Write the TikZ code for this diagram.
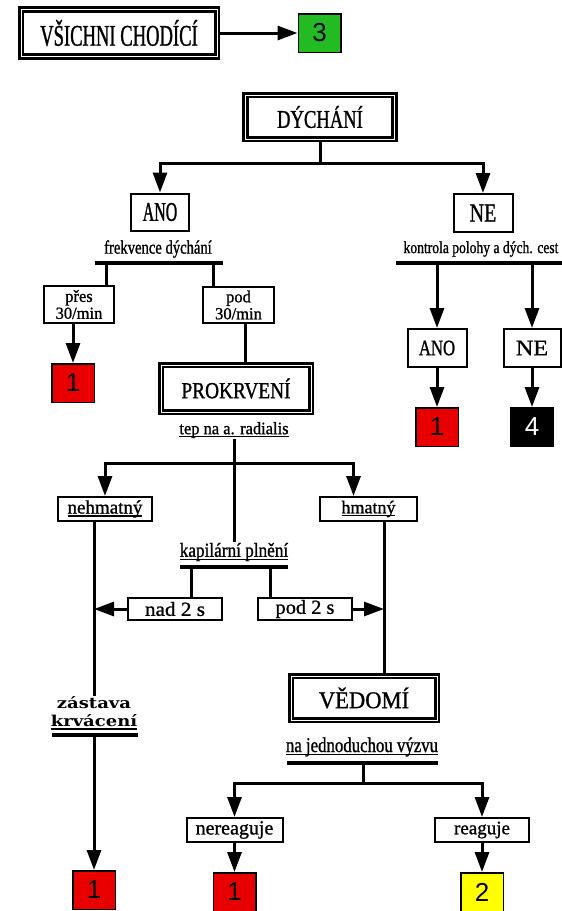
\documentclass[tikz,border=0pt]{standalone}
\usepackage{fontspec}
\setmainfont{Liberation Serif}
\newfontfamily\digitsans{Liberation Sans}
\usetikzlibrary{arrows.meta}
% condensed serif: #1 stretch, #2 size
\newcommand{\serifat}[2]{\fontspec[FakeStretch=#1,FakeBold=1]{Liberation Serif}\fontsize{#2}{#2}\selectfont}
\newcommand{\heavyat}[1]{\fontspec[FakeStretch=1.2]{DejaVu Serif}\bfseries\fontsize{#1}{#1}\selectfont}
\newcommand{\ulined}[1]{\leavevmode\setbox0=\hbox{#1}\rlap{\rule[-3pt]{\wd0}{1.3pt}}\box0}

\definecolor{triagegreen}{RGB}{34,187,34}
\definecolor{triagered}{RGB}{232,0,0}
\definecolor{triageyellow}{RGB}{255,255,0}

\tikzstyle{box}=[draw,line width=2pt,fill=white,inner sep=0pt,align=center]
\tikzstyle{title box}=[box,line width=2.8pt,double=white,double distance=0.9pt]
\tikzstyle{score box}=[draw,line width=1.5pt,minimum width=42.5pt,minimum height=38.5pt,
                       inner sep=0pt,font=\digitsans\fontsize{26}{26}\selectfont]
\tikzstyle{label}=[inner sep=1pt,align=center]
\tikzstyle{edge}=[draw,line width=3pt]
\tikzstyle{arrow}=[edge,-{Triangle[length=20pt,width=14pt]}]
\tikzstyle{bar}=[draw,line width=4pt]

\begin{document}
\begin{tikzpicture}[x=1pt,y=-1pt]
    \useasboundingbox (0,0) rectangle (562,911);
    % boxes
    \node[title box,minimum width=196pt,minimum height=47pt,
          font=\serifat{0.62}{30}] (walking) at (119,33) {VŠICHNI CHODÍCÍ};
    \node[title box,minimum width=149pt,minimum height=44pt,
          font=\serifat{0.73}{25.5}] (breath) at (320,117) {DÝCHÁNÍ};
    \node[title box,minimum width=150pt,minimum height=47pt,
          font=\serifat{0.84}{23}] (perfusion) at (236,388.5) {PROKRVENÍ};
    \node[title box,minimum width=146pt,minimum height=44pt,
          font=\serifat{0.94}{24}] (mind) at (364,698) {VĚDOMÍ};
    \node[box,minimum width=58pt,minimum height=37pt,
          font=\serifat{0.59}{27}] (yes breath) at (160,212) {ANO};
    \node[box,minimum width=59pt,minimum height=38pt,
          font=\serifat{0.77}{26}] (no breath) at (483,213) {NE};
    \node[box,minimum width=59pt,minimum height=38pt,
          font=\serifat{0.76}{22}] (yes airway) at (437,348) {ANO};
    \node[box,minimum width=57pt,minimum height=38pt,
          font=\serifat{1.1}{22}] (no airway) at (532,348) {NE};
    \node[box,minimum width=70pt,minimum height=37pt,
          font=\serifat{0.97}{17}] (fast) at (79,304.5) {přes\\30/min};
    \node[box,minimum width=71pt,minimum height=36pt,
          font=\serifat{0.97}{17}] (slow) at (238.5,305) {pod\\30/min};
    \node[box,minimum width=94pt,minimum height=24pt,
          font=\serifat{1}{19}] (no pulse) at (105,509) {\ulined{nehmatný}};
    \node[box,minimum width=97pt,minimum height=24pt,
          font=\serifat{1}{18}] (pulse) at (368.5,509) {\ulined{hmatný}};
    \node[box,minimum width=94pt,minimum height=22pt,
          font=\serifat{1.06}{20}] (over) at (175,609) {nad 2 s};
    \node[box,minimum width=94pt,minimum height=22pt,
          font=\serifat{1.02}{20}] (under) at (305,609) {pod 2 s};
    \node[box,minimum width=96pt,minimum height=24pt,
          font=\serifat{1}{20}] (silent) at (234.5,830) {nereaguje};
    \node[box,minimum width=94pt,minimum height=24pt,
          font=\serifat{1}{19}] (answers) at (482,830) {reaguje};
    % texts
    \node[label,font=\serifat{0.77}{19}] (rate) at (158,249) {frekvence dýchání};
    \node[label,font=\serifat{0.8}{17}] (airway) at (481,249) {kontrola polohy a dých. cest};
    \node[label,font=\serifat{0.94}{17.5}] (radial) at (234,430) {\ulined{tep na a. radialis}};
    \node[label,font=\serifat{0.86}{20}] (refill) at (234,552) {\ulined{kapilární plnění}};
    \node[label,font=\heavyat{15}] (stop) at (94,703) {zástava};
    \node[label,font=\heavyat{15}] (bleed) at (94,722) {\ulined{krvácení}};
    \node[label,font=\serifat{0.8}{21}] (voice) at (362,747) {\ulined{na jednoduchou výzvu}};
    % scores
    \foreach \pos/\name/\col/\ink/\num in {{(319.5,33)/green/triagegreen/black/3},
                                           {(73,383)/redfast/triagered/black/1},
                                           {(437,427)/redairway/triagered/black/1},
                                           {(532,427)/dead/black/white/4},
                                           {(94,890)/redbleed/triagered/black/1},
                                           {(234.5,892)/redsilent/triagered/black/1},
                                           {(482,892)/yellow/triageyellow/black/2}}
        \node[score box,fill=\col,text=\ink] (\name) at \pos {\num};
    % forks and bars
    \coordinate (breath fork) at (320,163);
    \coordinate (rate left) at (95,263);
    \coordinate (rate right) at (223,263);
    \coordinate (fast tap) at (106,263);
    \coordinate (slow tap) at (213,263);
    \coordinate (slow drop) at (245,0);
    \coordinate (airway left) at (396,263);
    \coordinate (airway right) at (562,263);
    \coordinate (pulse fork) at (234,463);
    \coordinate (felt drop) at (384,0);
    \coordinate (refill left) at (180,567);
    \coordinate (refill right) at (288,567);
    \coordinate (over tap) at (191,567);
    \coordinate (under tap) at (270,567);
    \coordinate (bleed left) at (52,735);
    \coordinate (bleed right) at (138,735);
    \coordinate (voice left) at (287,763);
    \coordinate (voice right) at (438,763);
    \coordinate (voice top) at (363,763);
    \coordinate (voice fork) at (363,783);
    \foreach \from/\to in {rate left/rate right, airway left/airway right,
                           refill left/refill right, bleed left/bleed right,
                           voice left/voice right}
        \path[bar] (\from) -- (\to);
    % connectors
    \path[arrow] (walking) -- (green);
    \path[edge] (breath) -- (breath fork);
    \path[arrow] (breath fork) -| (yes breath.north);
    \path[arrow] (breath fork) -| (no breath.north);
    \path[edge] (fast tap) -- (fast tap |- fast.north);
    \path[edge] (slow tap) -- (slow tap |- slow.north);
    \path[arrow] (redfast |- fast.south) -- (redfast.north);
    \path[edge] (slow drop |- slow.south) -- (slow drop |- perfusion.north);
    \path[arrow] (yes airway |- airway left) -- (yes airway.north);
    \path[arrow] (no airway |- airway left) -- (no airway.north);
    \foreach \source/\dest in {yes airway/redairway, no airway/dead,
                               silent/redsilent, answers/yellow}
        \path[arrow] (\source) -- (\dest);
    \path[edge] (radial) -- (refill);
    \path[arrow] (pulse fork) -| (no pulse.north);
    \path[arrow] (pulse fork) -| ([xshift=-15pt]pulse.north);
    \path[edge] (stop |- no pulse.south) -- (stop.north);
    \path[edge] (felt drop |- pulse.south) -- (felt drop |- mind.north);
    \path[edge] (over tap) -- (over tap |- over.north);
    \path[edge] (under tap) -- (under tap |- under.north);
    \path[arrow] (over) -- (over -| stop);
    \path[arrow] (under) -- (under -| felt drop);
    \path[arrow] (bleed left -| redbleed) -- (redbleed);
    \path[edge] (voice top) -- (voice fork);
    \path[arrow] (voice fork) -| (silent.north);
    \path[arrow] (voice fork) -| (answers.north);
\end{tikzpicture}
\end{document}
